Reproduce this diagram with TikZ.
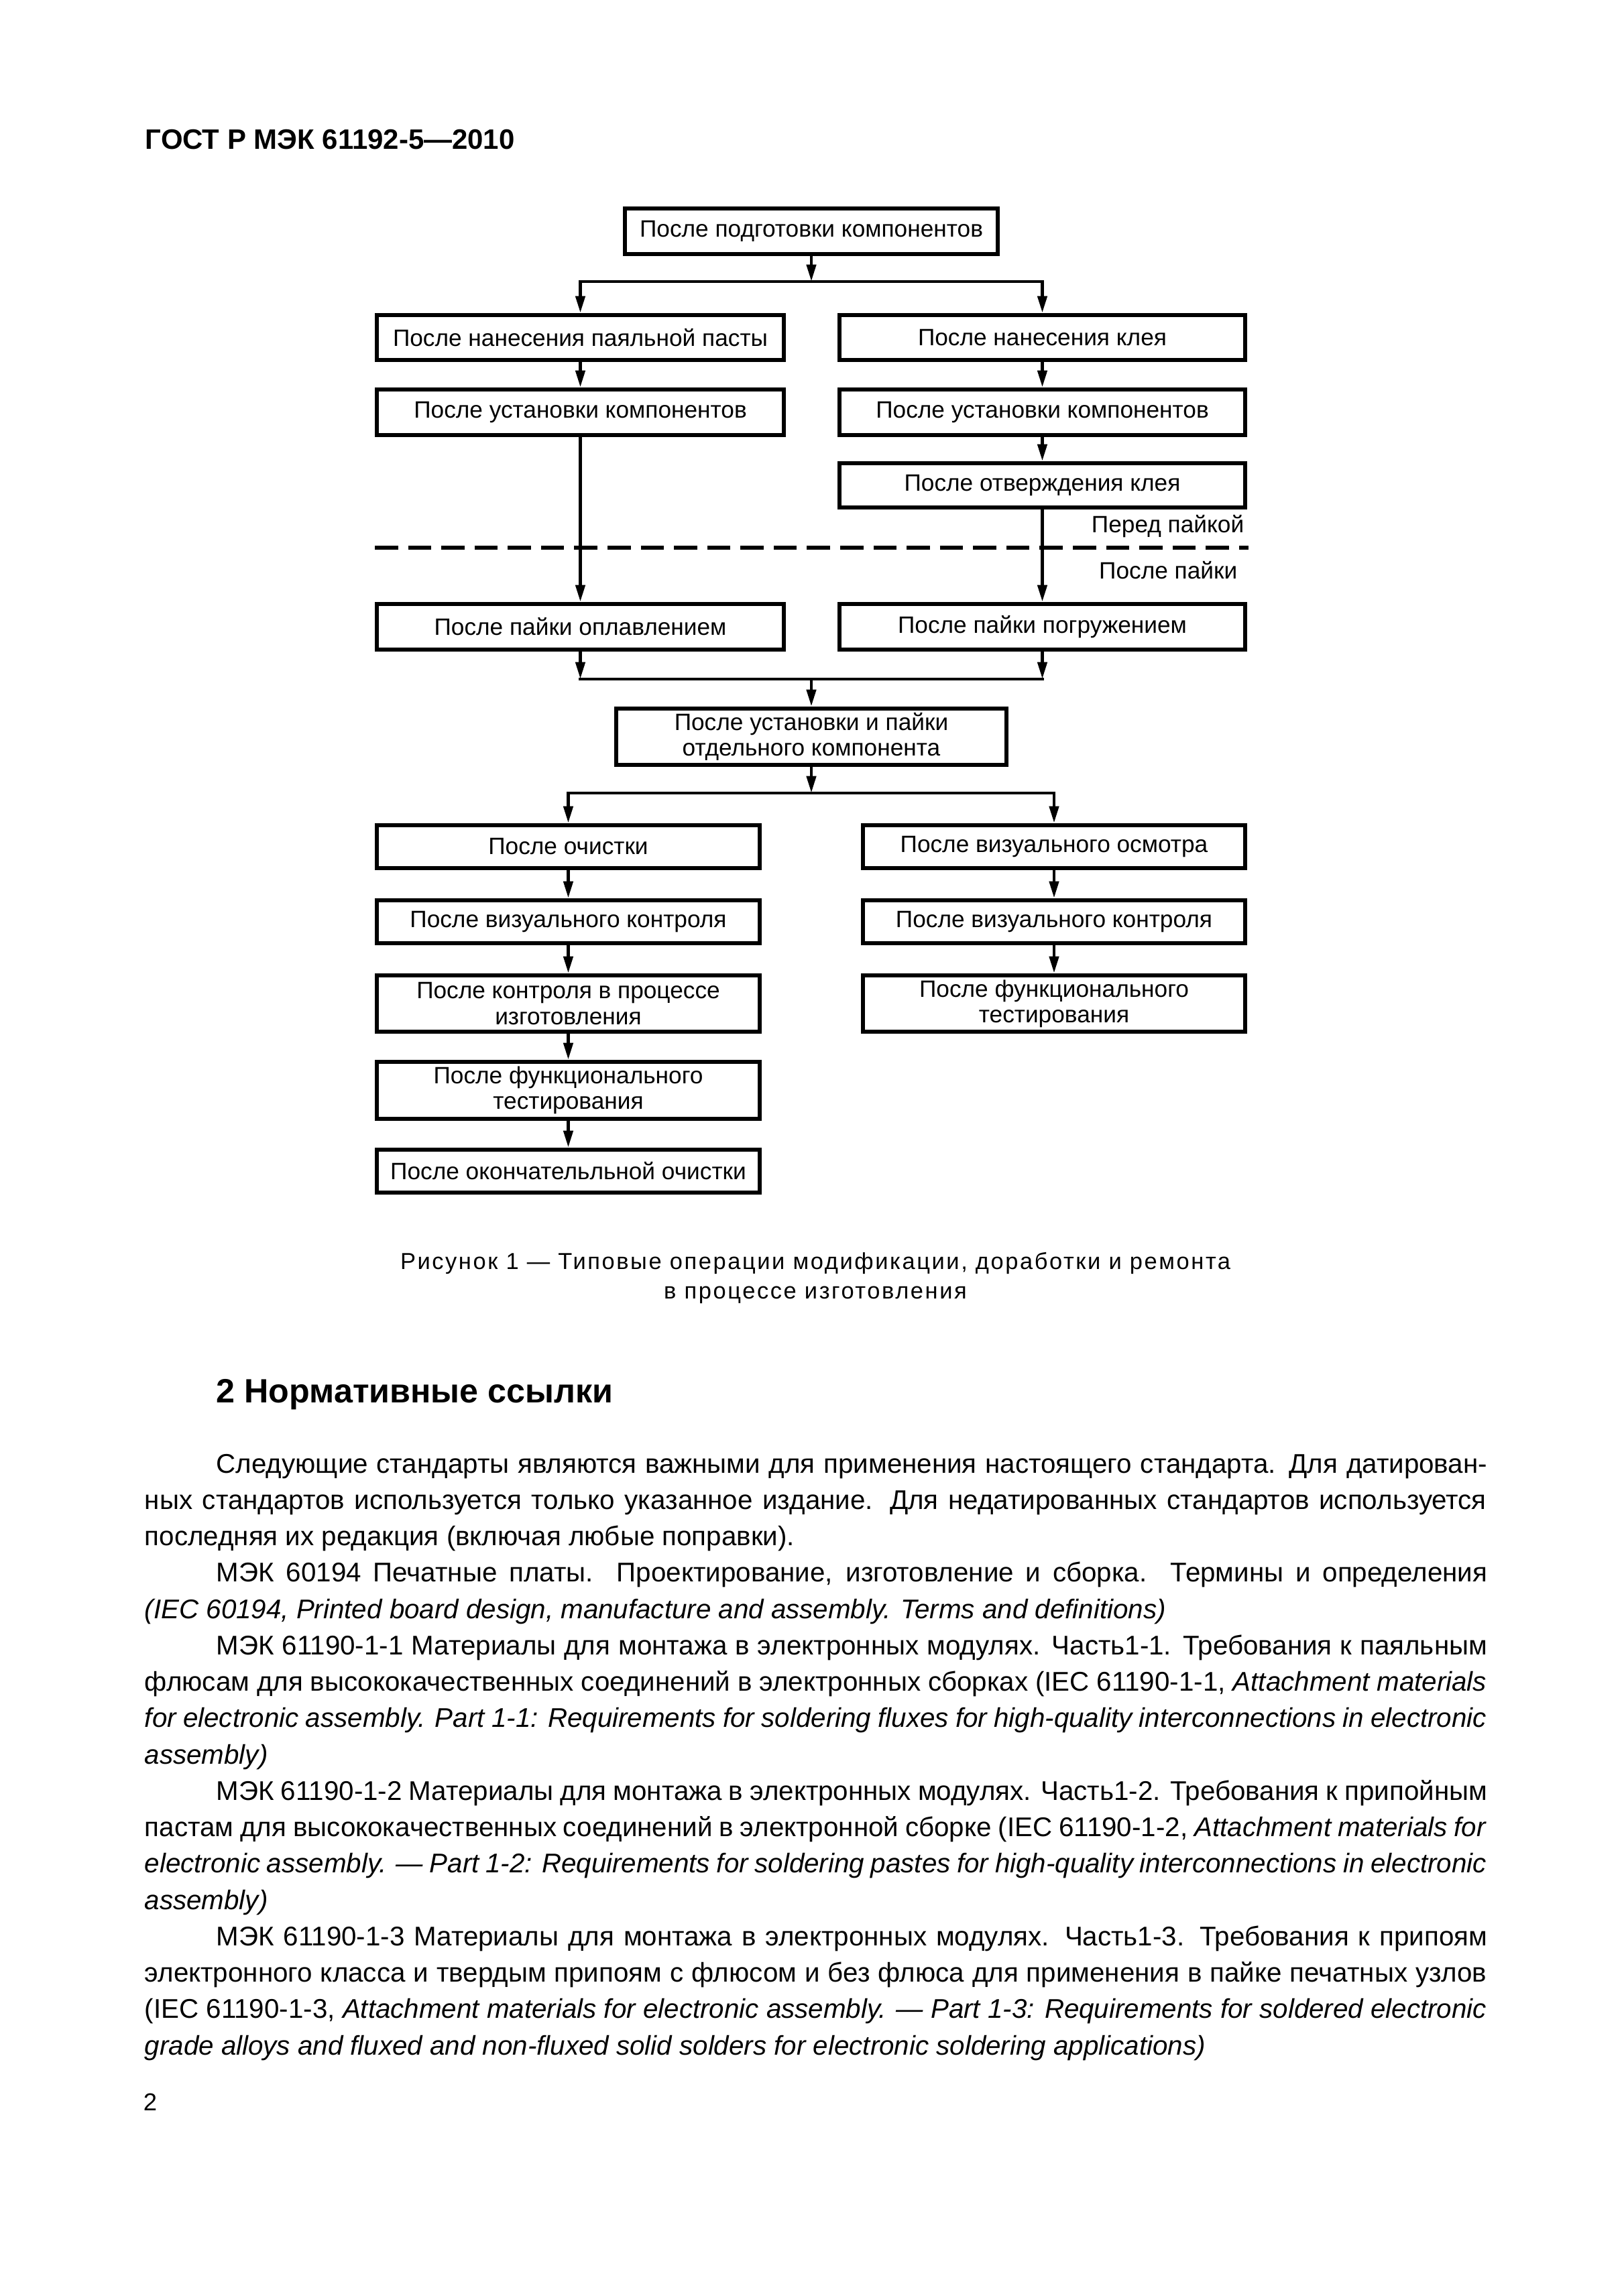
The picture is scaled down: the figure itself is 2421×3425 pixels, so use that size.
\documentclass[tikz,border=0pt]{standalone}
\usepackage{fontspec}
\setmainfont{Liberation Sans}
\usetikzlibrary{arrows.meta}

\newcommand{\px}{0.08674mm}
\newlength{\linew}\setlength{\linew}{173.6mm}
\newlength{\indw}\setlength{\indw}{164.4mm}

\tikzset{
  block/.style={draw, line width=1.5pt, align=center, inner sep=0pt,
    font=\fontsize{8.7}{9.4}\selectfont},
  link/.style={line width=1.2pt, line cap=rect},
  flow/.style={line width=1.2pt, -{Triangle[length=2.2mm,width=1.2mm]}},
  note/.style={anchor=base east, inner sep=0pt, font=\fontsize{8.7}{10}\selectfont},
  bodyline/.style={anchor=base west, inner sep=0pt, font=\fontsize{9.95}{11.8}\selectfont},
}

\begin{document}
\begin{tikzpicture}[x=\px, y=-\px]
\path[fill=white] (0,0) rectangle (2421,3425);

\node[anchor=base west, inner sep=0pt, font=\bfseries\fontsize{10.35}{12}\selectfont] (title) at (216,222) {ГОСТ Р МЭК 61192-5—2010};

\node[block, minimum width=556*\px, minimum height=68*\px] (prep) at (1210,345) {После подготовки компонентов};

\node[block, minimum width=607*\px, minimum height=67*\px] (paste) at (865.5,503.5) {После нанесения паяльной пасты};
\node[block, minimum width=605*\px, minimum height=67*\px] (glue) at (1554.5,503.5) {После нанесения клея};

\node[block, minimum width=607*\px, minimum height=68*\px] (placeL) at (865.5,615) {После установки компонентов};
\node[block, minimum width=605*\px, minimum height=68*\px] (placeR) at (1554.5,615) {После установки компонентов};

\node[block, minimum width=605*\px, minimum height=66*\px] (cure) at (1554.5,724) {После отверждения клея};

\node[note] (before) at (1856,794) {Перед пайкой};
\node[note] (after) at (1846,863) {После пайки};

\coordinate (cutl) at (559,817);
\coordinate (cutr) at (1862,817);
\draw[line width=1.4pt, dash pattern=on 3mm off 1.3mm] (cutl) -- (cutr);

\node[block, minimum width=607*\px, minimum height=68*\px] (reflow) at (865.5,935) {После пайки оплавлением};
\node[block, minimum width=605*\px, minimum height=68*\px] (wave) at (1554.5,935) {После пайки погружением};

\node[block, minimum width=582*\px, minimum height=84*\px] (single) at (1210,1099) {После установки и пайки\\отдельного компонента};

\node[block, minimum width=571*\px, minimum height=64*\px] (clean) at (847.5,1263) {После очистки};
\node[block, minimum width=570*\px, minimum height=64*\px] (inspect) at (1572,1263) {После визуального осмотра};

\node[block, minimum width=571*\px, minimum height=64*\px] (visL) at (847.5,1375) {После визуального контроля};
\node[block, minimum width=570*\px, minimum height=64*\px] (visR) at (1572,1375) {После визуального контроля};

\node[block, minimum width=571*\px, minimum height=84*\px] (ipc) at (847.5,1497) {После контроля в процессе\\изготовления};
\node[block, minimum width=570*\px, minimum height=84*\px] (funcR) at (1572,1497) {После функционального\\тестирования};

\node[block, minimum width=571*\px, minimum height=85*\px] (funcL) at (847.5,1626.5) {После функционального\\тестирования};

\node[block, minimum width=571*\px, minimum height=64*\px] (final) at (847.5,1747) {После окончательльной очистки};

\coordinate (j1) at (1210,420);
\coordinate (j1l) at (paste.north |- j1);
\coordinate (j1r) at (glue.north |- j1);
\draw[flow] (prep) -- (j1);
\draw[link] (j1l) -- (j1r);
\draw[flow] (j1l) -- (paste);
\draw[flow] (j1r) -- (glue);

\draw[flow] (paste) -- (placeL);
\draw[flow] (glue) -- (placeR);
\draw[flow] (placeR) -- (cure);
\draw[flow] (placeL) -- (reflow);
\draw[flow] (cure) -- (wave);

\coordinate (j2) at (1210,1013);
\coordinate (j2l) at (reflow.south |- j2);
\coordinate (j2r) at (wave.south |- j2);
\draw[flow] (reflow) -- (j2l);
\draw[flow] (wave) -- (j2r);
\draw[link] (j2l) -- (j2r);
\draw[flow] (j2) -- (single);

\coordinate (j3) at (1210,1183);
\coordinate (j3l) at (clean.north |- j3);
\coordinate (j3r) at (inspect.north |- j3);
\draw[flow] (single) -- (j3);
\draw[link] (j3l) -- (j3r);
\draw[flow] (j3l) -- (clean);
\draw[flow] (j3r) -- (inspect);

\draw[flow] (clean) -- (visL);
\draw[flow] (visL) -- (ipc);
\draw[flow] (ipc) -- (funcL);
\draw[flow] (funcL) -- (final);
\draw[flow] (inspect) -- (visR);
\draw[flow] (visR) -- (funcR);

\node[anchor=base, inner sep=0pt, font=\fontsize{8.5}{10}\selectfont\addfontfeature{LetterSpace=7.5}] (cap1) at (1216,1893) {Рисунок 1 — Типовые операции модификации, доработки и ремонта};
\node[anchor=base, inner sep=0pt, font=\fontsize{8.5}{10}\selectfont\addfontfeature{LetterSpace=7.5}] (cap2) at (1216,1937) {в процессе изготовления};

\node[anchor=base west, inner sep=0pt, font=\bfseries\fontsize{12.4}{14}\selectfont] (sect) at (322,2092) {2 Нормативные ссылки};

\node[bodyline] (l1) at (322,2197) {\makebox[\indw][s]{Следующие стандарты являются важными для применения настоящего стандарта. Для датирован-}};
\node[bodyline] (l2) at (215,2251.25) {\makebox[\linew][s]{ных стандартов используется только указанное издание. Для недатированных стандартов используется}};
\node[bodyline] (l3) at (215,2305.5) {последняя их редакция (включая любые поправки).};
\node[bodyline] (l4) at (322,2359.75) {\makebox[\indw][s]{МЭК 60194 Печатные платы. Проектирование, изготовление и сборка. Термины и определения}};
\node[bodyline] (l5) at (215,2414) {\textit{(IEC 60194, Printed board design, manufacture and assembly. Terms and definitions)}};
\node[bodyline] (l6) at (322,2468.25) {\makebox[\indw][s]{МЭК 61190-1-1 Материалы для монтажа в электронных модулях. Часть1-1. Требования к паяльным}};
\node[bodyline] (l7) at (215,2522.5) {\makebox[\linew][s]{флюсам для высококачественных соединений в электронных сборках (IEC 61190-1-1, \textit{Attachment materials}}};
\node[bodyline] (l8) at (215,2576.75) {\makebox[\linew][s]{\textit{for electronic assembly. Part 1-1: Requirements for soldering fluxes for high-quality interconnections in electronic}}};
\node[bodyline] (l9) at (215,2631) {\textit{assembly)}};
\node[bodyline] (l10) at (322,2685.25) {\makebox[\indw][s]{МЭК 61190-1-2 Материалы для монтажа в электронных модулях. Часть1-2. Требования к припойным}};
\node[bodyline] (l11) at (215,2739.5) {\makebox[\linew][s]{пастам для высококачественных соединений в электронной сборке (IEC 61190-1-2, \textit{Attachment materials for}}};
\node[bodyline] (l12) at (215,2793.75) {\makebox[\linew][s]{\textit{electronic assembly. — Part 1-2: Requirements for soldering pastes for high-quality interconnections in electronic}}};
\node[bodyline] (l13) at (215,2848) {\textit{assembly)}};
\node[bodyline] (l14) at (322,2902.25) {\makebox[\indw][s]{МЭК 61190-1-3 Материалы для монтажа в электронных модулях. Часть1-3. Требования к припоям}};
\node[bodyline] (l15) at (215,2956.5) {\makebox[\linew][s]{электронного класса и твердым припоям с флюсом и без флюса для применения в пайке печатных узлов}};
\node[bodyline] (l16) at (215,3010.75) {\makebox[\linew][s]{(IEC 61190-1-3, \textit{Attachment materials for electronic assembly. — Part 1-3: Requirements for soldered electronic}}};
\node[bodyline] (l17) at (215,3065) {\textit{grade alloys and fluxed and non-fluxed solid solders for electronic soldering applications)}};

\node[anchor=base west, inner sep=0pt, font=\fontsize{9}{11}\selectfont] (pageno) at (213,3148) {2};
\end{tikzpicture}
\end{document}
